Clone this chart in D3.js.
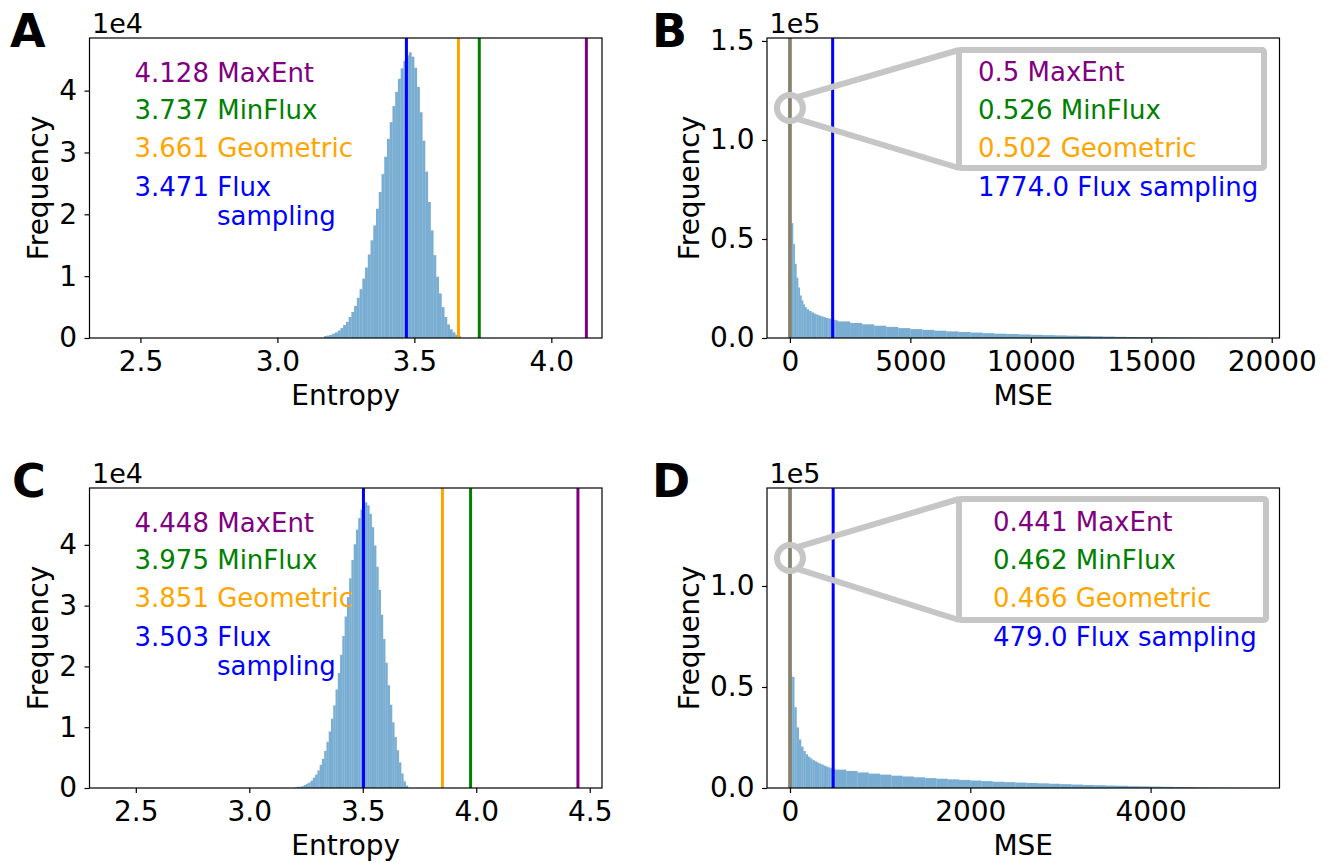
<!DOCTYPE html>
<html>
<head>
<meta charset="utf-8">
<script src="https://cdn.jsdelivr.net/npm/d3@7"></script>
<style>
  body { margin: 0; background: #fff; }
  text { font-family: "DejaVu Sans", sans-serif; }
</style>
</head>
<body>
<svg id="fig" width="1338" height="863"></svg>
<script>
// ---- data ----
// Entropy histograms (bins of 0.01), counts
const A_binStart = 3.17, A_binWidth = 0.01;
const A_counts = [300, 400, 500, 700, 900, 1200, 1600, 2100, 2600, 3400,
    4200, 5200, 6500, 7900, 9600, 11400, 13500, 15800, 18200, 20900,
    23600, 26500, 29300, 32200, 34900, 37500, 39800, 41900, 43600, 44800,
    45700, 46200, 45500, 43700, 40600, 36500, 31900, 26900, 22000, 17400,
    13400, 9900, 7200, 5000, 3400, 2200, 1400, 900, 500, 300];

const C_binStart = 3.20, C_binWidth = 0.01;
const C_counts = [100, 200, 200, 300, 500, 700, 900, 1200, 1700, 2200,
    2900, 3800, 4800, 6100, 7600, 9300, 11400, 13600, 16200, 18900,
    21900, 25000, 28200, 31400, 34500, 37500, 40100, 42500, 44400, 45800,
    46700, 47000, 46500, 45100, 42900, 39900, 36400, 32600, 28500, 24500,
    20600, 16900, 13700, 10800, 8400, 6200, 4200, 2400, 1100, 400];

// MSE histograms (bin edges + counts)
const B_edges = [0, 70, 140, 210, 280, 350, 420, 490, 560, 630, 700,
    800, 900, 1000, 1100, 1200, 1300, 1400, 1500, 1600, 1700, 1800, 1900, 2000,
    2500, 3000, 3500, 4000, 4500, 5000, 5500, 6000, 6500, 7000, 7500,
    8000, 8500, 9000, 9500, 10000, 10500, 11000, 11500, 12000, 12500,
    13000, 13500, 14000, 14500, 15000, 15500, 16000, 16500, 17000, 17500,
    18000, 18500, 19000, 19500];
const B_counts = [58000, 58000, 47500, 37500, 30500, 25500, 21500, 19000, 17000, 15600,
    14500, 13600, 12900, 12300, 11800, 11300, 10900, 10500, 10100, 9800, 9500, 9200, 8900,
    8400, 7600, 6900, 6200, 5600, 5000, 4500, 4100, 3700, 3350, 3050,
    2750, 2450, 2200, 2000, 1800, 1600, 1450, 1300, 1150, 1000,
    850, 720, 600, 500, 400, 320, 250, 190, 140, 100,
    70, 45, 30, 20];

const D_edges = [0, 25, 50, 75, 100, 125, 150, 175, 200, 225, 250,
    275, 300, 325, 350, 375, 400, 425, 450, 475, 500,
    625, 750, 875, 1000, 1125, 1250, 1375, 1500, 1625, 1750, 1875,
    2000, 2125, 2250, 2375, 2500, 2625, 2750, 2875, 3000, 3125,
    3250, 3375, 3500, 3625, 3750, 3875, 4000, 4125, 4250, 4375,
    4500, 4625, 4750, 4875, 5000, 5125];
const D_counts = [56000, 55000, 40000, 30000, 24000, 20500, 18300, 16700, 15500, 14600,
    13800, 13200, 12600, 12100, 11600, 11100, 10600, 10200, 9800, 9500,
    9100, 8400, 7700, 7100, 6600, 6100, 5700, 5300, 4900, 4600, 4300,
    4000, 3700, 3400, 3100, 2900, 2700, 2500, 2300, 2100, 1900,
    1700, 1500, 1400, 1200, 1100, 900, 800, 700, 600, 500,
    400, 300, 200, 150, 100, 50];

// method scores
const methods = ["MaxEnt", "MinFlux", "Geometric", "Flux sampling"];
const methodColors = ["#800080", "#008000", "#ffa500", "#0000ff"];
const A_scores = [4.128, 3.737, 3.661, 3.471];
const B_scores = [0.5, 0.526, 0.502, 1774.0];
const C_scores = [4.448, 3.975, 3.851, 3.503];
const D_scores = [0.441, 0.462, 0.466, 479.0];
const B_labels = ["0.5", "0.526", "0.502", "1774.0"];
const D_labels = ["0.441", "0.462", "0.466", "479.0"];

// axes ticks
const entropyTicksA = [2.5, 3.0, 3.5, 4.0];
const entropyTicksC = [2.5, 3.0, 3.5, 4.0, 4.5];
const entropyYTicks = [0, 10000, 20000, 30000, 40000];
const mseTicksB = [0, 5000, 10000, 15000, 20000];
const mseTicksD = [0, 2000, 4000];
const mseYTicksB = [0, 50000, 100000, 150000];
const mseYTicksD = [0, 50000, 100000];

// ---- layout ----
const W = 512.5, H = 300;
const tickFont = 28, noteFont = 26;
const svg = d3.select("#fig");
const overlapGray = "#88826f";

function uniformBins(start, width, counts) {
    return counts.map(function(c, i) {
        return {x0: start + i * width, x1: start + (i + 1) * width, count: c};
    });
}
function edgeBins(edges, counts) {
    return counts.map(function(c, i) { return {x0: edges[i], x1: edges[i + 1], count: c}; });
}

function drawPanel(p) {
    const g = svg.append("g").attr("transform", `translate(${p.left},${p.top})`);
    const x = d3.scaleLinear().domain(p.xDomain).range([0, W]);
    const y = d3.scaleLinear().domain(p.yDomain).range([H, 0]);

    // histogram bars
    g.append("g").selectAll("rect").data(p.bins).join("rect")
        .attr("x", d => x(d.x0))
        .attr("width", d => Math.max(0.1, x(d.x1) - x(d.x0) - p.gap))
        .attr("y", d => y(d.count))
        .attr("height", d => y(0) - y(d.count))
        .attr("fill", "#1f77b4")
        .attr("fill-opacity", 0.6);

    // vertical score lines (flux sampling drawn last)
    g.append("g").selectAll("line").data(p.lines).join("line")
        .attr("x1", d => x(d.value)).attr("x2", d => x(d.value))
        .attr("y1", 0).attr("y2", H)
        .attr("stroke", d => d.color)
        .attr("stroke-width", 3);

    // axes
    const xa = g.append("g").attr("transform", `translate(0,${H})`)
        .call(d3.axisBottom(x).tickValues(p.xTicks).tickFormat(p.xFmt)
            .tickSize(5).tickPadding(8.5));
    const ya = g.append("g")
        .call(d3.axisLeft(y).tickValues(p.yTicks).tickFormat(p.yFmt)
            .tickSize(5).tickPadding(7.5));
    [xa, ya].forEach(function(a) {
        a.select(".domain").remove();
        a.selectAll("line").attr("stroke", "#000").attr("stroke-width", 1.2);
        a.selectAll("text").attr("font-size", tickFont).attr("fill", "#000")
            .attr("font-family", "DejaVu Sans");
    });

    // frame
    g.append("rect").attr("width", W).attr("height", H)
        .attr("fill", "none").attr("stroke", "#000").attr("stroke-width", 1.2);

    // offset text and axis labels
    g.append("text").attr("x", 2.5).attr("y", -5).attr("font-size", 27).text(p.offset);
    g.append("text").attr("x", W / 2).attr("y", H + 67).attr("text-anchor", "middle")
        .attr("font-size", tickFont).text(p.xLabel);
    g.append("text").attr("transform", `translate(${p.yLabelX},${H / 2}) rotate(-90)`)
        .attr("text-anchor", "middle").attr("font-size", tickFont).text("Frequency");

    // zoom inset for the near-zero MSE lines
    if (p.inset) {
        const cx = x(0), cy = 70, r = 13;
        const ins = g.append("g").attr("fill", "none").attr("stroke", "#c6c6c6")
            .attr("stroke-width", 6).attr("stroke-linejoin", "round");
        ins.append("rect").attr("x", p.inset[0]).attr("y", p.inset[1])
            .attr("width", p.inset[2] - p.inset[0]).attr("height", p.inset[3] - p.inset[1])
            .attr("rx", 2);
        ins.append("circle").attr("cx", cx).attr("cy", cy).attr("r", r);
        ins.append("line").attr("x1", cx + r * 0.55).attr("y1", cy - r * 0.83)
            .attr("x2", p.inset[0]).attr("y2", p.inset[1]);
        ins.append("line").attr("x1", cx + r * 0.55).attr("y1", cy + r * 0.83)
            .attr("x2", p.inset[0]).attr("y2", p.inset[3]);
    }

    // score annotations
    const ann = g.append("g").attr("font-size", noteFont);
    p.notes.forEach(function(n) {
        ann.append("text").attr("x", n.x).attr("y", n.y).attr("fill", n.color).text(n.text);
    });

    // panel letter
    svg.append("text").attr("x", p.letterX).attr("y", p.top + 9)
        .attr("font-family", "Liberation Sans, Arial, sans-serif")
        .attr("font-weight", "bold").attr("font-size", 46).text(p.letter);
}

function entropyNotes(scores) {
    const ys = [43.7, 81, 119, 158];
    const notes = scores.map(function(s, i) {
        const name = i === 3 ? "Flux" : methods[i];
        return {x: 45, y: ys[i], color: methodColors[i], text: s.toFixed(3) + " " + name};
    });
    notes.push({x: 127.5, y: 187, color: methodColors[3], text: "sampling"});
    return notes;
}
function mseNotes(labels, x0) {
    const ys = [43, 81, 119, 158];
    return labels.map(function(l, i) {
        return {x: x0, y: ys[i], color: methodColors[i], text: l + " " + methods[i]};
    });
}
function scoreLines(scores, colors) {
    return scores.map(function(s, i) { return {value: s, color: colors[i]}; });
}

const fmtE = d => d3.format(".1f")(d);
const fmtInt = d => d3.format("d")(d);

drawPanel({
    letter: "A", letterX: 10, left: 89.5, top: 38,
    xDomain: [2.314, 4.185], yDomain: [0, d3.max(A_counts) * 1.05],
    bins: uniformBins(A_binStart, A_binWidth, A_counts), gap: 0,
    lines: scoreLines(A_scores, methodColors),
    xTicks: entropyTicksA, xFmt: fmtE, yTicks: entropyYTicks, yFmt: d => d / 1e4,
    offset: "1e4", xLabel: "Entropy", yLabelX: -42,
    notes: entropyNotes(A_scores)
});
drawPanel({
    letter: "B", letterX: 652, left: 767, top: 38,
    xDomain: [-951, 20323], yDomain: [0, 151500],
    bins: edgeBins(B_edges, B_counts), gap: 0,
    lines: scoreLines(B_scores, [overlapGray, overlapGray, overlapGray, methodColors[3]]),
    xTicks: mseTicksB, xFmt: fmtInt, yTicks: mseYTicksB, yFmt: d => d3.format(".1f")(d / 1e5),
    offset: "1e5", xLabel: "MSE", yLabelX: -68,
    inset: [192, 12, 497, 130],
    notes: mseNotes(B_labels, 211)
});
drawPanel({
    letter: "C", letterX: 12, left: 89.5, top: 488,
    xDomain: [2.296, 4.554], yDomain: [0, d3.max(C_counts) * 1.05],
    bins: uniformBins(C_binStart, C_binWidth, C_counts), gap: 0,
    lines: scoreLines(C_scores, methodColors),
    xTicks: entropyTicksC, xFmt: fmtE, yTicks: entropyYTicks, yFmt: d => d / 1e4,
    offset: "1e4", xLabel: "Entropy", yLabelX: -42,
    notes: entropyNotes(C_scores)
});
drawPanel({
    letter: "D", letterX: 652, left: 767, top: 488,
    xDomain: [-255, 5430], yDomain: [0, 148500],
    bins: edgeBins(D_edges, D_counts), gap: 0,
    lines: scoreLines(D_scores, [overlapGray, overlapGray, overlapGray, methodColors[3]]),
    xTicks: mseTicksD, xFmt: fmtInt, yTicks: mseYTicksD, yFmt: d => d3.format(".1f")(d / 1e5),
    offset: "1e5", xLabel: "MSE", yLabelX: -68,
    inset: [192, 11, 499, 132],
    notes: mseNotes(D_labels, 226)
});
</script>
</body>
</html>
